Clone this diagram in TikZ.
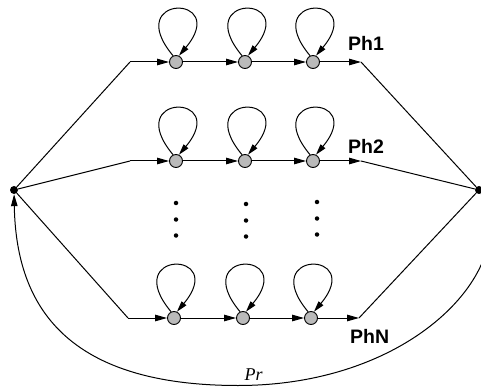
\documentclass[tikz,border=0pt]{standalone}
\usepackage{fontspec}
\setmainfont{Liberation Serif}
\setsansfont{Liberation Sans}
\usetikzlibrary{arrows.meta}
\tikzset{
  state/.style={circle, draw, fill=black!27, line width=0.9pt, minimum size=13pt, inner sep=0pt},
  junction/.style={circle, fill=black, minimum size=8pt, inner sep=0pt},
  wire/.style={line width=1pt},
  flow/.style={wire, -{Triangle[length=12pt,width=6.5pt]}},
  selfloop/.style={wire, -{Triangle[length=11pt,width=6pt]}},
  phase/.style={font=\sffamily\bfseries\fontsize{19.5}{20}\selectfont, anchor=base west, inner sep=0pt},
  vdot/.style={circle, fill=black, minimum size=4.5pt, inner sep=0pt},
}
\begin{document}
\begin{tikzpicture}[x=1pt,y=-1pt]
  \useasboundingbox (0,0) rectangle (481,387);

  % fork and join points
  \node[junction] (L) at (14,190) {};
  \node[junction] (R) at (479,190) {};

  % three chains of states: row id / y / x-start / x-end / state x positions
  \foreach \r/\y/\xs/\xe/\xa/\xb/\xc in {1/62/130/361/176/245/313, 2/161/130/361/176/245/313, 3/318/128/359/174/243/311} {
    \coordinate (a\r) at (\xs,\y);
    \coordinate (b\r) at (\xe,\y);
    \node[state] (p\r1) at (\xa,\y) {};
    \node[state] (p\r2) at (\xb,\y) {};
    \node[state] (p\r3) at (\xc,\y) {};
    \draw[wire] (L) -- (a\r);
    \draw[flow] (a\r) -- (p\r1);
    \draw[flow] (p\r1) -- (p\r2);
    \draw[flow] (p\r2) -- (p\r3);
    \draw[flow] (p\r3) -- (b\r);
    \draw[wire] (b\r) -- (R);
    \foreach \k in {1,2,3}
      \draw[selfloop] (p\r\k.115) .. controls +(-52,-62) and +(52,-62) .. (p\r\k.65);
  }

  % chain labels
  \node[phase] (ph1) at (348,50.7) {Ph1};
  \node[phase] (ph2) at (348,154) {Ph2};
  \node[phase] (phn) at (350,343) {PhN};

  % vertical ellipsis between the second and last chains
  \foreach \x/\y in {176/203, 246/204, 317/202} {
    \node[vdot] at (\x,\y) {};
    \node[vdot] at (\x,\y+16.5) {};
    \node[vdot] at (\x,\y+32.5) {};
  }

  % feedback path from join back to fork
  \coordinate (B) at (238,385.5);
  \draw[flow] (R) .. controls (522,262) and (420,385.5) .. (B)
                  .. controls (60,385.5) and (16,300) .. (L);
  \node[font=\itshape\fontsize{18}{18}\selectfont, anchor=base, inner sep=0pt] (pr) at (253.5,380) {Pr};
\end{tikzpicture}
\end{document}
